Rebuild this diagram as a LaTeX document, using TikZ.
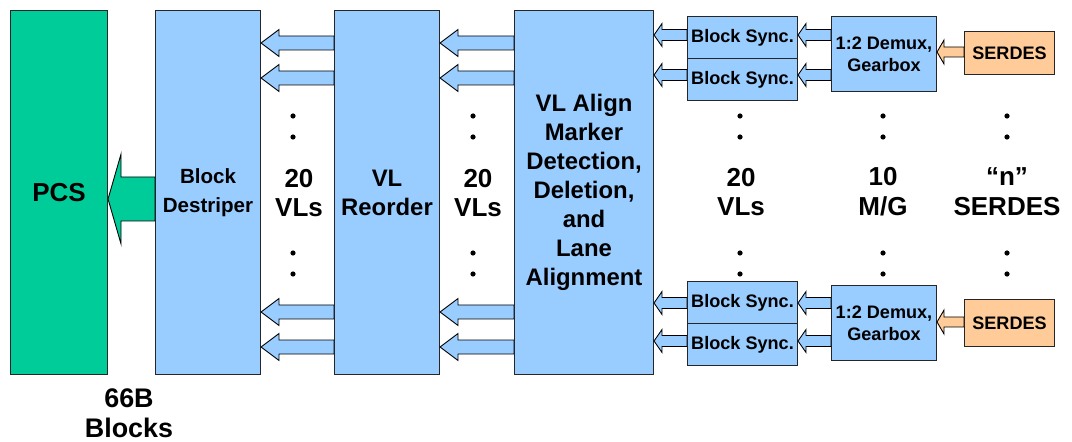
\documentclass[tikz,border=0pt]{standalone}
\usepackage{fontspec}
\setmainfont{Liberation Sans}
\usetikzlibrary{calc}

\definecolor{pcsgreen}{RGB}{0,204,153}
\definecolor{laneblue}{RGB}{153,204,255}
\definecolor{serdesorange}{RGB}{255,204,153}

\tikzset{
  box/.style={draw=black!85, line width=0.6pt, fill=laneblue, anchor=north west,
    inner sep=0pt, align=center},
  bigfont/.style={font=\bfseries\fontsize{14.8}{17}\selectfont},
  midfont/.style={font=\bfseries\fontsize{13.6}{16.5}\selectfont},
  smallfont/.style={font=\bfseries\fontsize{10.3}{12.5}\selectfont},
  lbl/.style={align=center, inner sep=0pt, bigfont},
  arrowline/.style={draw=black, line width=0.5pt, line join=miter}
}

% block arrow: #1 from, #2 to, #3 y, #4 half shaft, #5 half head, #6 head length, #7 fill
\newcommand{\lanearrow}[7]{%
  \coordinate (tip) at (#2.east |- 0,#3);
  \draw[arrowline, fill=#7] (tip) -- ++(#6,-#5) -- ++(0,{#5-#4})
    -- (#1.west |- 0,{#3-#4}) -- (#1.west |- 0,{#3+#4})
    -- ($(tip)+(#6,#4)$) -- ($(tip)+(#6,#5)$) -- cycle;
}

\begin{document}
\begin{tikzpicture}[x=0.02cm,y=-0.02cm]
\useasboundingbox (0,0) rectangle (1072,442);

% main blocks
\node[box, fill=pcsgreen, minimum width=1.94cm, minimum height=7.28cm, font=\bfseries\fontsize{14.8}{17}\selectfont] (pcs) at (10,10) {PCS};
\node[box, minimum width=2.1cm, minimum height=7.28cm, font=\bfseries\fontsize{11.7}{16.5}\selectfont] (destriper) at (155,10) {Block\\Destriper};
\node[box, minimum width=2.1cm, minimum height=7.28cm, midfont] (reorder) at (334,10) {VL\\Reorder};
\node[box, minimum width=2.78cm, minimum height=7.28cm, midfont] (align) at (514,10) {VL Align\\Marker\\Detection,\\Deletion,\\and\\Lane\\Alignment};

% lane blocks
\node[box, minimum width=2.2cm, minimum height=0.84cm, smallfont] (syncA) at (687,16) {Block Sync.};
\node[box, minimum width=2.2cm, minimum height=0.84cm, smallfont] (syncB) at (687,58) {Block Sync.};
\node[box, minimum width=2.1cm, minimum height=1.5cm, smallfont] (demuxA) at (831,16) {1:2 Demux,\\Gearbox};
\node[box, fill=serdesorange, minimum width=1.8cm, minimum height=0.86cm, smallfont] (serdesA) at (964,31) {SERDES};

\node[box, minimum width=2.2cm, minimum height=0.84cm, smallfont] (syncC) at (687,281) {Block Sync.};
\node[box, minimum width=2.2cm, minimum height=0.84cm, smallfont] (syncD) at (687,323) {Block Sync.};
\node[box, minimum width=2.1cm, minimum height=1.5cm, smallfont] (demuxB) at (831,285) {1:2 Demux,\\Gearbox};
\node[box, fill=serdesorange, minimum width=1.8cm, minimum height=0.94cm, smallfont] (serdesB) at (964,299) {SERDES};

% arrows
\lanearrow{destriper}{pcs}{199}{22}{45}{13}{pcsgreen}
\foreach \y in {43,78,312,347} {
  \lanearrow{reorder}{destriper}{\y}{7}{13.5}{18}{laneblue}
  \lanearrow{align}{reorder}{\y}{7}{13.5}{18}{laneblue}
}
\foreach \y/\s in {35/syncA,75/syncB} {
  \lanearrow{\s}{align}{\y}{5.5}{11.5}{8}{laneblue}
  \lanearrow{demuxA}{\s}{\y}{5.5}{11.5}{8}{laneblue}
}
\foreach \y/\s in {303/syncC,341/syncD} {
  \lanearrow{\s}{align}{\y}{5.5}{11.5}{8}{laneblue}
  \lanearrow{demuxB}{\s}{\y}{5.5}{11.5}{8}{laneblue}
}
\lanearrow{serdesA}{demuxA}{52}{5}{12}{7}{serdesorange}
\lanearrow{serdesB}{demuxB}{322}{5}{12}{7}{serdesorange}

% dots
\foreach \x in {293,473,740,883,1007}
  \foreach \y in {116,137,253,274}
    \fill (\x,\y) circle (2.6);

% labels
\node[lbl] (vlsA) at (299,193) {20\\VLs};
\node[lbl] (vlsB) at (478,193) {20\\VLs};
\node[lbl] (vlsC) at (741,192) {20\\VLs};
\node[lbl] (mg) at (883,192) {10\\M/G};
\node[lbl] (nserdes) at (1007,192) {“n”\\SERDES};
\node[lbl, font=\bfseries\fontsize{15.3}{17}\selectfont] (blocks) at (129,413) {66B\\Blocks};
\end{tikzpicture}
\end{document}
